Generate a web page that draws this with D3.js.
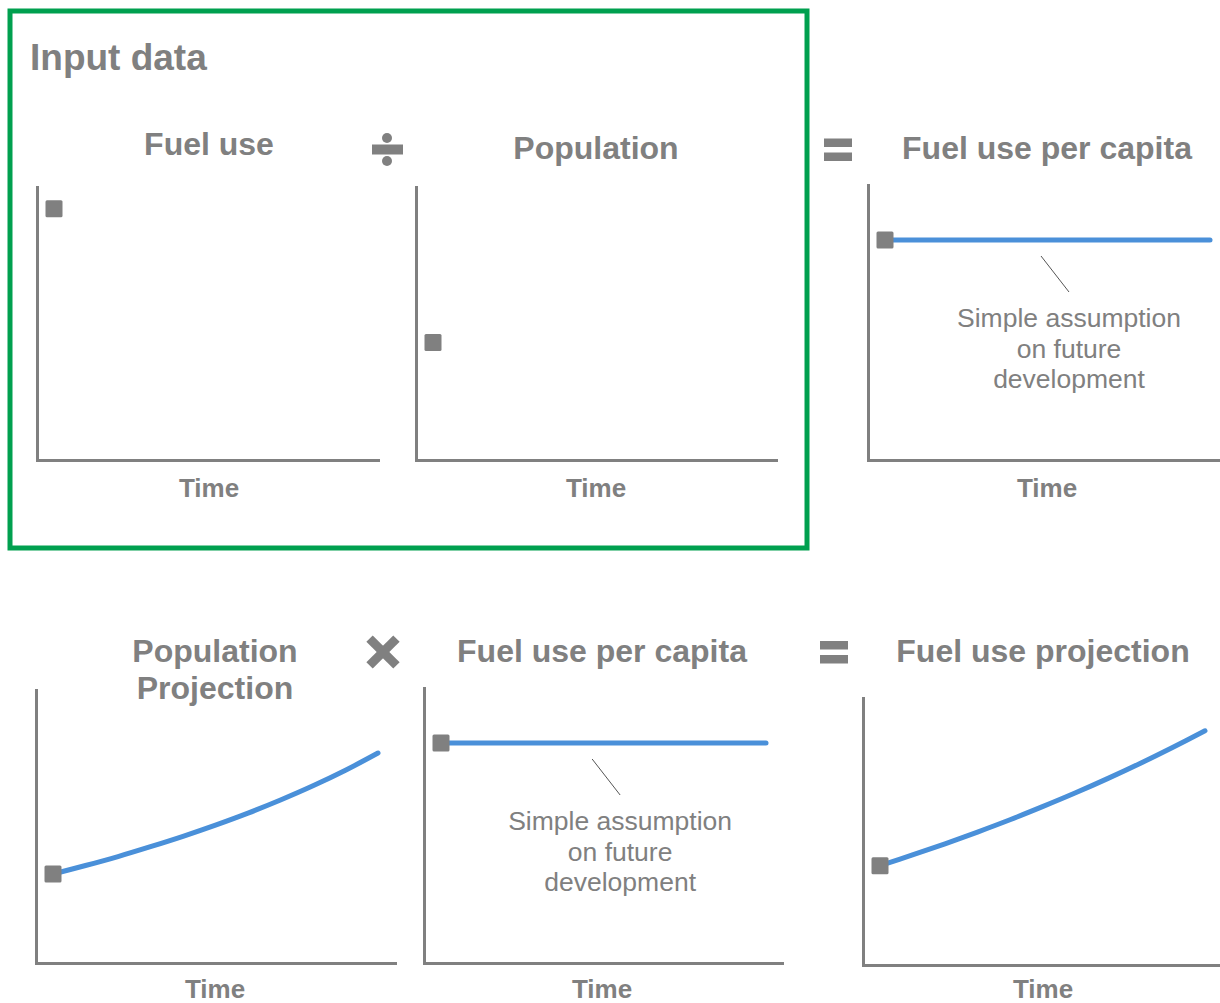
<!DOCTYPE html>
<html>
<head>
<meta charset="utf-8">
<script src="https://cdn.jsdelivr.net/npm/d3@7"></script>
<style>
  body { margin: 0; background: #fff; }
  svg text { font-family: "Liberation Sans", Arial, Helvetica, sans-serif; fill: #808080; }
</style>
</head>
<body>
<svg id="chart"></svg>
<script>
// time steps (arbitrary units)
const timeSteps = [0, 1, 2, 3, 4, 5, 6, 7, 8, 9, 10];

// observed input data: only the first observation is known
const fuelUse = [92];
const population = [43];

// simple assumption: flat per-capita use
const fuelPerCapita = [80, 80, 80, 80, 80, 80, 80, 80, 80, 80, 80];

// projections
const populationProjection = [32.6, 35.7, 39.0, 42.6, 46.4, 50.5, 54.9, 59.7, 64.9, 70.6, 76.9];
const fuelUseProjection = [37.2, 41.2, 45.4, 49.8, 54.4, 59.3, 64.4, 69.8, 75.5, 81.5, 87.7];

const axisLabel = "Time";
const noteLines = ["Simple assumption", "on future", "development"];

const grey = "#808080", blue = "#4a90d9", green = "#00a04f";

const width = 1220, height = 1003;

const svg = d3.select("#chart")
    .attr("width", width)
    .attr("height", height);

// green frame round the input data
svg.append("rect")
    .attr("x", 10).attr("y", 11)
    .attr("width", 797).attr("height", 537)
    .attr("fill", "none")
    .attr("stroke", green)
    .attr("stroke-width", 5);

svg.append("text")
    .attr("x", 30).attr("y", 70)
    .attr("font-size", 37).attr("font-weight", "bold")
    .text("Input data");

// panel layout
const panels = [
    { title: ["Fuel use"], titleY: 155, cx: 209, x0: 37, yTop: 187, yBot: 460, xEnd: 378, timeY: 497, values: fuelUse },
    { title: ["Population"], titleY: 159, cx: 596, x0: 416, yTop: 187, yBot: 460, xEnd: 776, timeY: 497, values: population },
    { title: ["Fuel use per capita"], titleY: 159, cx: 1047, x0: 868, yTop: 185, yBot: 460, xEnd: 1220, timeY: 497, values: fuelPerCapita, noteAt: 4.8 },
    { title: ["Population", "Projection"], titleY: 662, cx: 215, x0: 36, yTop: 690, yBot: 963, xEnd: 395, timeY: 998, values: populationProjection },
    { title: ["Fuel use per capita"], titleY: 662, cx: 602, x0: 424, yTop: 688, yBot: 963, xEnd: 782, timeY: 998, values: fuelPerCapita, noteAt: 4.65 },
    { title: ["Fuel use projection"], titleY: 662, cx: 1043, x0: 863, yTop: 698, yBot: 965, xEnd: 1220, timeY: 998, values: fuelUseProjection }
];

panels.forEach(p => {
    const g = svg.append("g");

    let xScale = d3.scaleLinear()
        .domain(d3.extent(timeSteps))
        .range([p.x0 + 17, p.x0 + 342]);

    let yScale = d3.scaleLinear()
        .domain([0, 100])
        .range([p.yBot, p.yTop]);

    // axes without ticks, only the domain line
    let xAxisScale = d3.scaleLinear().range([p.x0, p.xEnd]);

    g.append("g")
        .attr("transform", "translate(0," + p.yBot + ")")
        .call(d3.axisBottom(xAxisScale).ticks(0).tickSizeOuter(0));

    g.append("g")
        .attr("transform", "translate(" + p.x0 + ",0)")
        .call(d3.axisLeft(yScale).ticks(0).tickSizeOuter(0));

    g.selectAll(".domain")
        .attr("stroke", grey)
        .attr("stroke-width", 3)
        .attr("stroke-linecap", "square");

    // titles
    p.title.forEach((t, i) => {
        g.append("text")
            .attr("x", p.cx).attr("y", p.titleY + i * 37)
            .attr("text-anchor", "middle")
            .attr("font-size", 32).attr("font-weight", "bold")
            .text(t);
    });

    g.append("text")
        .attr("x", p.cx).attr("y", p.timeY)
        .attr("text-anchor", "middle")
        .attr("font-size", 26).attr("font-weight", "bold")
        .text(axisLabel);

    const data = p.values.map((v, i) => ({ t: timeSteps[i], v: v }));

    if (data.length > 1) {
        g.append("path")
            .datum(data)
            .attr("fill", "none")
            .attr("stroke", blue)
            .attr("stroke-width", 5)
            .attr("stroke-linecap", "round")
            .attr("d", d3.line()
                .curve(d3.curveCatmullRom)
                .x(d => xScale(d.t))
                .y(d => yScale(d.v)));
    }

    // first observation marker
    g.append("rect")
        .attr("x", xScale(data[0].t) - 8.5)
        .attr("y", yScale(data[0].v) - 8.5)
        .attr("width", 17).attr("height", 17)
        .attr("rx", 1.5)
        .attr("fill", grey);

    if (p.noteAt !== undefined) {
        let ax = xScale(p.noteAt), ay = yScale(p.values[5]) + 16;
        g.append("line")
            .attr("x1", ax).attr("y1", ay)
            .attr("x2", ax + 28).attr("y2", ay + 36)
            .attr("stroke", "#555")
            .attr("stroke-width", 1);
        noteLines.forEach((t, i) => {
            g.append("text")
                .attr("x", ax + 28).attr("y", ay + 71 + i * 30.5)
                .attr("text-anchor", "middle")
                .attr("font-size", 26.5)
                .text(t);
        });
    }
});

// operator symbols
// divide
const div = svg.append("g").attr("fill", grey);
div.append("rect").attr("x", 372).attr("y", 144.5).attr("width", 31).attr("height", 10);
div.append("circle").attr("cx", 387).attr("cy", 138).attr("r", 5);
div.append("circle").attr("cx", 387).attr("cy", 161).attr("r", 5);

// equals
[[824, 138.5], [820, 641]].forEach(([x, y]) => {
    svg.append("rect").attr("x", x).attr("y", y).attr("width", 28).attr("height", 8.5).attr("fill", grey);
    svg.append("rect").attr("x", x).attr("y", y + 14).attr("width", 28).attr("height", 8.5).attr("fill", grey);
});

// times
const times = svg.append("g")
    .attr("transform", "translate(383,652) rotate(45)")
    .attr("fill", grey);
times.append("rect").attr("x", -19).attr("y", -4.5).attr("width", 38).attr("height", 9);
times.append("rect").attr("x", -4.5).attr("y", -19).attr("width", 9).attr("height", 38);
</script>
</body>
</html>
